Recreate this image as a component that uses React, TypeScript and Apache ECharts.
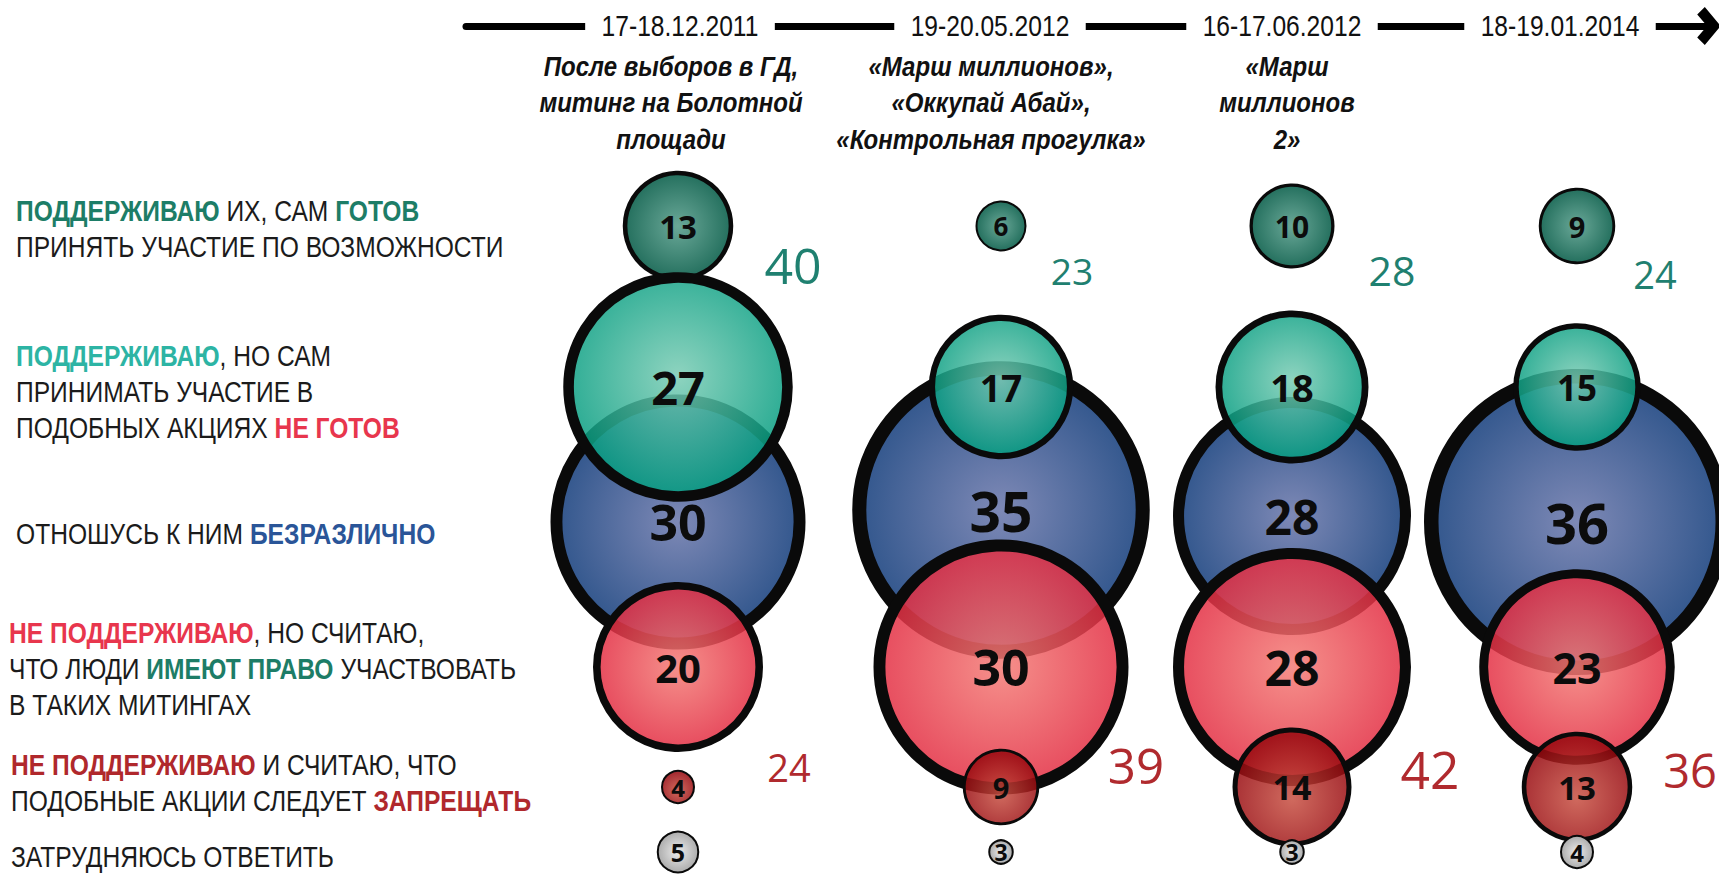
import React, { useEffect, useRef } from "react";
import * as echarts from "echarts";

// ---- data ----
const DATES = ["17-18.12.2011", "19-20.05.2012", "16-17.06.2012", "18-19.01.2014"];
const EVENTS: string[][] = [
  ["После выборов в ГД,", "митинг на Болотной", "площади"],
  ["«Марш миллионов»,", "«Оккупай Абай»,", "«Контрольная прогулка»"],
  ["«Марш", "миллионов", "2»"],
  [],
];
const READY = [13, 6, 10, 9]; // поддерживаю, сам готов
const SUPPORT = [27, 17, 18, 15]; // поддерживаю, но не готов
const INDIFFERENT = [30, 35, 28, 36]; // безразлично
const TOLERATE = [20, 30, 28, 23]; // не поддерживаю, но имеют право
const BAN = [4, 9, 14, 13]; // не поддерживаю, запрещать
const UNSURE = [5, 3, 3, 4]; // затрудняюсь ответить

const ROW_LABELS = [
  "{g|ПОДДЕРЖИВАЮ}{k| ИХ, САМ }{g|ГОТОВ}\n{k|ПРИНЯТЬ УЧАСТИЕ ПО ВОЗМОЖНОСТИ}",
  "{t|ПОДДЕРЖИВАЮ}{k|, НО САМ}\n{k|ПРИНИМАТЬ УЧАСТИЕ В}\n{k|ПОДОБНЫХ АКЦИЯХ }{r|НЕ ГОТОВ}",
  "{k|ОТНОШУСЬ К НИМ }{b|БЕЗРАЗЛИЧНО}",
  "{r|НЕ ПОДДЕРЖИВАЮ}{k|, НО СЧИТАЮ,}\n{k|ЧТО ЛЮДИ }{g|ИМЕЮТ ПРАВО}{k| УЧАСТВОВАТЬ}\n{k|В ТАКИХ МИТИНГАХ}",
  "{d|НЕ ПОДДЕРЖИВАЮ}{k| И СЧИТАЮ, ЧТО}\n{k|ПОДОБНЫЕ АКЦИИ СЛЕДУЕТ }{d|ЗАПРЕЩАТЬ}",
  "{k|ЗАТРУДНЯЮСЬ ОТВЕТИТЬ}",
];

// ---- layout (axis units = page pixels) ----
const COL_X = [678, 1001, 1292, 1577];
const DATE_X = [680, 990, 1282, 1560];
const EVENT_X = [671, 991, 1287, 1560];
const ROW_Y = [226, 387, 522, 667, 787, 852];
const ROW_SHIFT: number[][] = [
  [0, 0, 0, 0],
  [0, 0, 0, 0],
  [0, -12, -6, 0],
  [0, 0, 0, 0],
  [0, 0, 0, 0],
  [0, 0, 0, 0],
];
const LABEL_X = [16, 16, 16, 9, 11, 11];
const LABEL_Y = [229, 392, 534, 669, 783, 857];
const TOP_SUM_DX = [115, 71, 100, 78];
const TOP_SUM_Y = [265, 270, 270, 274];
const LOW_SUM_DX = [111, 135, 138, 113];
const LOW_SUM_Y = [767, 764, 769, 770];

const SANS = "'Liberation Sans', Arial, sans-serif";
const NUMF = "'Open Sans', 'Noto Sans', sans-serif";

const radial = (c0: string, c1: string, y = 0.5) => ({
  type: "radial",
  x: 0.5,
  y,
  r: 0.55,
  colorStops: [
    { offset: 0, color: c0 },
    { offset: 1, color: c1 },
  ],
});

const ROWS = [
  { values: READY, fill: radial("#6aa898", "#1d6a58"), z: 2 },
  { values: SUPPORT, fill: radial("rgba(122,204,180,0.85)", "rgba(0,155,126,0.85)", 0.45), z: 3 },
  { values: INDIFFERENT, fill: radial("#7e89b6", "#2b5289"), z: 1 },
  { values: TOLERATE, fill: radial("rgba(244,124,118,0.85)", "rgba(225,37,61,0.85)"), z: 4 },
  { values: BAN, fill: radial("rgba(200,80,66,0.85)", "rgba(150,8,14,0.85)", 0.6), z: 5 },
  { values: UNSURE, fill: radial("#ececec", "#a6a6a6"), z: 6 },
];

const borderW = (v: number) => Math.max(2, 0.43 * v - 1);

const tok = (fill: string, bold: boolean, lh = 36) => ({
  fill,
  fontFamily: SANS,
  fontSize: 30,
  fontWeight: bold ? "bold" : "normal",
  lineHeight: lh,
});

export default function App() {
  const ref = useRef<HTMLDivElement>(null);
  useEffect(() => {
    if (!ref.current) return;
    const chart = echarts.init(ref.current, null, { renderer: "svg" });

    const bubbleSeries = ROWS.map((row, r) => ({
      type: "scatter",
      z: row.z,
      silent: true,
      symbol: "circle",
      symbolSize: (val: number[]) => 8.5 * val[2] - borderW(val[2]),
      itemStyle: { opacity: 1 },
      data: row.values.map((v, i) => ({
        value: [COL_X[i], ROW_Y[r] + ROW_SHIFT[r][i], v],
        itemStyle: { color: row.fill, borderColor: "#0a0a0a", borderWidth: borderW(v), opacity: 1 },
        label: { fontSize: 20 + v },
      })),
      label: {
        show: true,
        position: "inside",
        formatter: (p: any) => String(p.value[2]),
        fontFamily: NUMF,
        fontWeight: "bold",
        color: "#0c0c0c",
        opacity: 1,
      },
    }));

    const sumSeries = (tops: number[][], dx: number[], ys: number[], color: string) => ({
      type: "scatter",
      z: 7,
      silent: true,
      symbolSize: 1,
      itemStyle: { color: "rgba(0,0,0,0)", opacity: 1 },
      data: COL_X.map((x, i) => {
        const s = tops[0][i] + tops[1][i];
        return { value: [x + dx[i], ys[i], s], label: { fontSize: 20 + 0.75 * s } };
      }),
      label: {
        show: true,
        position: "inside",
        formatter: (p: any) => String(p.value[2]),
        fontFamily: NUMF,
        color,
        opacity: 1,
      },
    });

    const rowTexts = ROW_LABELS.map((t, i) => {
      const lh = i === 5 ? 26 : 36;
      return {
        type: "text",
        x: LABEL_X[i],
        y: LABEL_Y[i],
        scaleX: 0.82,
        z: 100,
        silent: true,
        style: {
          text: t,
          fontFamily: SANS,
          fontSize: 30,
          fill: "#1b1b1b",
          align: "left",
          verticalAlign: "middle",
          lineHeight: lh,
          rich: {
            k: tok("#1b1b1b", false, lh),
            g: tok("#1d7d67", true, lh),
            t: tok("#2db4a4", true, lh),
            r: tok("#e8364d", true, lh),
            b: tok("#2a5598", true, lh),
            d: tok("#b0282c", true, lh),
          },
        },
      };
    });

    const dateTexts = DATES.map((d, i) => ({
      type: "text",
      x: DATE_X[i],
      y: 26,
      scaleX: 0.82,
      z: 100,
      silent: true,
      style: {
        text: d,
        fontFamily: SANS,
        fontSize: 30,
        fill: "#111",
        align: "center",
        verticalAlign: "middle",
        backgroundColor: "#fff",
        padding: [5, 20],
      },
    }));

    const eventTexts = EVENTS.filter((e) => e.length > 0).map((lines, i) => ({
      type: "text",
      x: EVENT_X[i],
      y: 48,
      scaleX: 0.89,
      z: 100,
      silent: true,
      style: {
        text: lines.join("\n"),
        fontFamily: SANS,
        fontSize: 27,
        fontStyle: "italic",
        fontWeight: "bold",
        fill: "#111",
        align: "center",
        verticalAlign: "top",
        lineHeight: 36.5,
      },
    }));

    chart.setOption({
      animation: false,
      backgroundColor: "#fff",
      grid: { left: 466, right: 10, top: 26, bottom: 0, containLabel: false, outerBoundsMode: "none" },
      xAxis: {
        type: "value",
        position: "top",
        min: 466,
        max: 1709,
        splitLine: { show: false },
        axisTick: { show: false },
        axisLabel: { show: false },
        axisLine: {
          show: true,
          onZero: false,
          symbol: ["none", "path://M50,0 L100,42 L80,62 L50,36 L20,62 L0,42 Z"],
          symbolSize: [38, 24],
          lineStyle: { color: "#000", width: 7 },
        },
      },
      yAxis: {
        type: "value",
        inverse: true,
        min: 26,
        max: 875,
        show: false,
        splitLine: { show: false },
      },
      graphic: [...rowTexts, ...dateTexts, ...eventTexts],
      series: [
        ...bubbleSeries,
        sumSeries([READY, SUPPORT], TOP_SUM_DX, TOP_SUM_Y, "#1f8070"),
        sumSeries([TOLERATE, BAN], LOW_SUM_DX, LOW_SUM_Y, "#b02a2e"),
      ],
    });
    return () => chart.dispose();
  }, []);
  return (
    <div
      ref={ref}
      style={{ position: "fixed", left: 0, top: 0, width: 1719, height: 875, background: "#fff" }}
    />
  );
}
